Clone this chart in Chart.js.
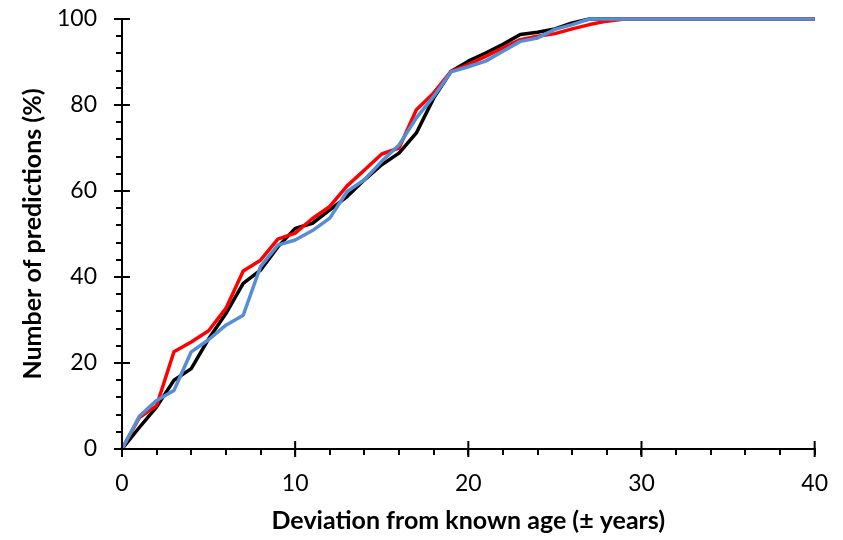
<!DOCTYPE html>
<html>
<head>
<meta charset="utf-8">
<script src="https://cdn.jsdelivr.net/npm/chart.js@4"></script>
<style>
  html, body { margin: 0; padding: 0; background: #fff; }
  #wrap { width: 843px; height: 540px; }
</style>
</head>
<body>
<div id="wrap"><canvas id="myChart" width="843" height="540"></canvas></div>
<script>
// deviation from known age (years)
const deviation = [0, 1, 2, 3, 4, 5, 6, 7, 8, 9, 10, 11, 12, 13, 14, 15, 16, 17, 18, 19, 20,
    21, 22, 23, 24, 25, 26, 27, 28, 29, 30, 31, 32, 33, 34, 35, 36, 37, 38, 39, 40];

// cumulative % of predictions within deviation
const blackSeries = [0, 5, 9.8, 16, 18.7, 25.6, 31.5, 38.5, 41.6, 47, 51.3, 52.5, 55.6, 58.7, 62.6, 66.1,
    68.8, 73.5, 81.6, 87.8, 90.2, 92.1, 94.1, 96.4, 96.9, 97.7, 99.1, 100, 100, 100, 100,
    100, 100, 100, 100, 100, 100, 100, 100, 100, 100];
const redSeries = [0, 7.3, 10.1, 22.6, 24.9, 27.5, 32.7, 41.4, 43.9, 48.8, 50.2, 53.6, 56.4, 61.2, 64.9, 68.6,
    70, 78.9, 82.8, 87.8, 89.4, 91.3, 93.3, 95.2, 96, 96.6, 97.7, 98.7, 99.5, 100, 100,
    100, 100, 100, 100, 100, 100, 100, 100, 100, 100];
const blueSeries = [0, 7.6, 11.3, 13.6, 22.6, 25.4, 28.8, 31.1, 42.4, 47.4, 48.6, 50.8, 53.7, 59.9, 62.6, 66.9,
    70.7, 77, 82, 87.7, 88.9, 90.2, 92.5, 94.8, 95.6, 97.6, 98.7, 100, 100, 100, 100,
    100, 100, 100, 100, 100, 100, 100, 100, 100, 100];

const xMajor = [0, 10, 20, 30, 40];
const yMajor = [0, 20, 40, 60, 80, 100];

const toPoints = arr => arr.map((v, i) => ({ x: deviation[i], y: v }));

const fontFamily = "Lato, 'Open Sans', sans-serif";

// major ticks cross the axis line (Excel style)
const majorTicks = {
    id: 'majorTicks',
    afterDraw(chart) {
        const c = chart.ctx;
        const xs = chart.scales.x, ys = chart.scales.y;
        const axisY = ys.getPixelForValue(0);
        const axisX = xs.getPixelForValue(0);
        c.save();
        c.strokeStyle = '#000';
        c.lineWidth = 2;
        c.beginPath();
        xMajor.forEach(v => {
            const px = xs.getPixelForValue(v);
            c.moveTo(px, axisY - 8);
            c.lineTo(px, axisY + 8);
        });
        yMajor.forEach(v => {
            const py = ys.getPixelForValue(v);
            c.moveTo(axisX - 8, py);
            c.lineTo(axisX + 8, py);
        });
        c.stroke();
        c.restore();
    }
};

const ctx = document.getElementById("myChart").getContext("2d");

new Chart(ctx, {
    type: 'line',
    data: {
        datasets: [
            { label: 'Blue', data: toPoints(blueSeries), borderColor: '#558ed5', clip: false },
            { label: 'Red', data: toPoints(redSeries), borderColor: '#ff0000', clip: false },
            { label: 'Black', data: toPoints(blackSeries), borderColor: '#000000', clip: false }
        ]
    },
    options: {
        responsive: false,
        animation: false,
        layout: { padding: { left: 0, right: 28, top: 19, bottom: 0 } },
        elements: {
            line: { borderWidth: 3.5, tension: 0, fill: false, borderJoinStyle: 'round' },
            point: { radius: 0 }
        },
        plugins: {
            legend: { display: false },
            tooltip: { enabled: false }
        },
        scales: {
            x: {
                type: 'linear',
                min: 0,
                max: 40,
                afterFit(scale) { scale.height = 91; },
                border: { color: '#000', width: 2 },
                grid: { drawOnChartArea: false, drawTicks: true, tickLength: 6, color: '#000', lineWidth: 2 },
                ticks: {
                    stepSize: 2,
                    autoSkip: false,
                    maxRotation: 0,
                    padding: 15,
                    color: '#000',
                    font: { family: fontFamily, size: 23 },
                    callback: v => (v % 10 === 0 ? v : '')
                },
                title: {
                    display: true,
                    text: 'Deviation from known age (± years)',
                    color: '#000',
                    font: { family: fontFamily, size: 25, weight: 'bold' },
                    padding: { top: 0, bottom: 4 }
                }
            },
            y: {
                min: 0,
                max: 100,
                afterFit(scale) {
                    scale.width = 122;
                    scale.paddingTop = 19;
                    scale.paddingBottom = 0;
                },
                border: { color: '#000', width: 2 },
                grid: { drawOnChartArea: false, drawTicks: true, tickLength: 6, color: '#000', lineWidth: 2 },
                ticks: {
                    stepSize: 4,
                    autoSkip: false,
                    padding: 19,
                    color: '#000',
                    font: { family: fontFamily, size: 23 },
                    callback: v => (v % 20 === 0 ? v : '')
                },
                title: {
                    display: true,
                    text: 'Number of predictions (%)',
                    color: '#000',
                    font: { family: fontFamily, size: 25, weight: 'bold' },
                    padding: { top: 18, bottom: 0 }
                }
            }
        }
    },
    plugins: [majorTicks]
});
</script>
</body>
</html>
